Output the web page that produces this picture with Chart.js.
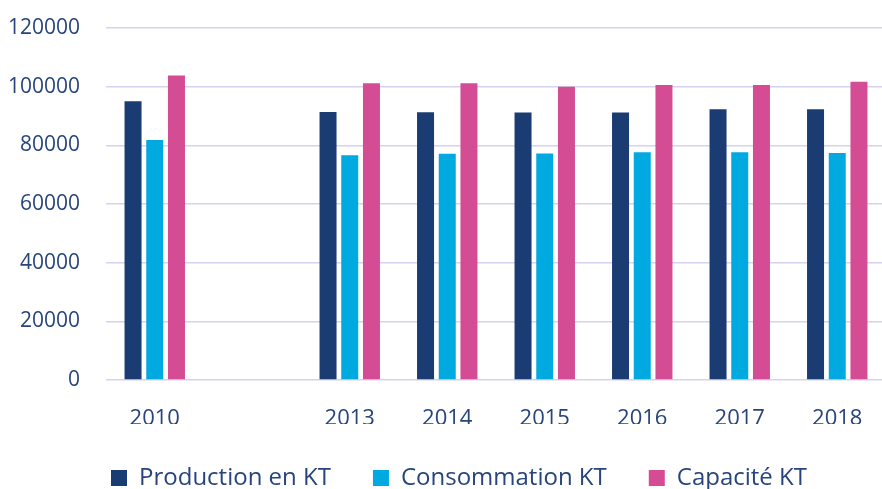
<!DOCTYPE html>
<html lang="fr">
<head>
<meta charset="utf-8">
<title>Production, consommation et capacité</title>
<script src="https://cdn.jsdelivr.net/npm/chart.js"></script>
<style>
    html, body { margin: 0; padding: 0; background: #ffffff; overflow: hidden; }
    #chartBox { position: relative; width: 890px; height: 500px; }
</style>
</head>
<body>
<div id="chartBox"><canvas id="kpiChart"></canvas></div>
<script>
// données (KT)
const annees = ['2010', '', '2013', '2014', '2015', '2016', '2017', '2018'];
const production = [95000, null, 91400, 91300, 91200, 91200, 92300, 92300];
const consommation = [81800, null, 76600, 77100, 77200, 77600, 77600, 77400];
const capacite = [103800, null, 101200, 101200, 100000, 100600, 100600, 101700];
const graduations = [0, 20000, 40000, 60000, 80000, 100000, 120000];

const couleurTexte = '#27457c';
const couleurGrille = '#d6d2ef';

// la légende est un peu décalée vers la droite dans l'original
const decalageLegende = {
    id: 'decalageLegende',
    afterLayout: function (chart) {
        if (chart.legend) {
            chart.legend.left += 16;
            chart.legend.right += 16;
        }
    }
};

document.addEventListener("DOMContentLoaded", function () {
    let canvas = document.getElementById('kpiChart');
    let ctx = canvas.getContext('2d');

    window.kpiChart = new Chart(ctx, {
        type: 'bar',
        data: {
            labels: annees,
            datasets: [
                {
                    label: 'Production en KT',
                    data: production,
                    backgroundColor: '#1a3c72'
                },
                {
                    label: 'Consommation KT',
                    data: consommation,
                    backgroundColor: '#00a9e0'
                },
                {
                    label: 'Capacité KT',
                    data: capacite,
                    backgroundColor: '#d44c94'
                }
            ]
        },
        plugins: [decalageLegende],
        options: {
            responsive: true,
            maintainAspectRatio: false,
            animation: false,
            categoryPercentage: 0.668,
            barPercentage: 0.783,
            layout: {
                padding: { top: 28, left: 0, right: 4, bottom: 0 }
            },
            plugins: {
                tooltip: { enabled: false },
                legend: {
                    position: 'bottom',
                    labels: {
                        boxWidth: 16,
                        boxHeight: 16,
                        padding: 42,
                        color: couleurTexte,
                        font: { family: 'Open Sans', size: 24 }
                    }
                }
            },
            scales: {
                x: {
                    grid: { display: false, drawTicks: false },
                    border: { display: false },
                    ticks: {
                        padding: 26,
                        color: couleurTexte,
                        font: { family: 'Open Sans', size: 22 }
                    },
                    afterFit: function (scale) { scale.height = 44; }
                },
                y: {
                    min: 0,
                    max: 120000,
                    afterBuildTicks: function (scale) {
                        scale.ticks = graduations.map(v => ({ value: v }));
                    },
                    // marques invisibles pour écarter les libellés sans agrandir la marge du haut
                    grid: {
                        color: couleurGrille,
                        lineWidth: 1.5,
                        drawTicks: true,
                        tickLength: 26,
                        tickColor: 'rgba(0,0,0,0)'
                    },
                    border: { display: false },
                    ticks: {
                        padding: 0,
                        color: couleurTexte,
                        font: { family: 'Open Sans', size: 21 },
                        callback: function (value) { return String(value); }
                    },
                    afterFit: function (scale) { scale.width = 106; }
                }
            }
        }
    });
    console.log("graphique créé");
});
</script>
</body>
</html>
